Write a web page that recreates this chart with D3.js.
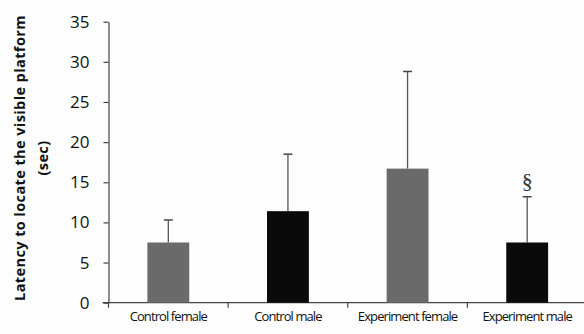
<!DOCTYPE html>
<html>
<head>
<meta charset="utf-8">
<script src="https://cdn.jsdelivr.net/npm/d3@7"></script>
<style>
  html, body { margin: 0; padding: 0; background: #fdfdfd; }
  svg { display: block; }
  svg text { font-family: "Open Sans", "DejaVu Sans", sans-serif; }
</style>
</head>
<body>
<svg id="chart" width="584" height="334"></svg>
<script>
// Group means and standard deviations (seconds)
const categories = ["Control female", "Control male", "Experiment female", "Experiment male"];
const means = [7.5, 11.4, 16.7, 7.5];
const errors = [2.8, 7.1, 12.1, 5.7];
const barColors = ["#6a6a6a", "#0a0a0a", "#6a6a6a", "#0a0a0a"];
const markers = ["", "", "", "§"];
const yTicks = [0, 5, 10, 15, 20, 25, 30, 35];

const svg = d3.select("#chart");
const margin = { left: 108.5, top: 21.7, bottom: 31.3 };
const plotRight = 587;
const plotBottom = 334 - margin.bottom;
const fontFamily = "'Open Sans', 'DejaVu Sans', sans-serif";

const x = d3.scaleBand()
  .domain(categories)
  .range([margin.left, plotRight])
  .paddingInner(0.65)
  .paddingOuter(0.325);

const y = d3.scaleLinear().domain([0, 35]).range([plotBottom, margin.top]);

const axisColor = "#444";

// Y axis
const yAxis = svg.append("g")
  .attr("transform", `translate(${margin.left},0)`)
  .call(d3.axisLeft(y).tickValues(yTicks).tickSize(5).tickSizeOuter(0));
yAxis.attr("font-family", null).attr("font-size", null);
yAxis.select(".domain").attr("stroke", axisColor).attr("stroke-width", 1.2);
yAxis.selectAll(".tick line").attr("stroke", axisColor).attr("stroke-width", 1.2);
yAxis.selectAll(".tick text")
  .attr("x", -19)
  .attr("fill", "#111")
  .style("font-family", fontFamily)
  .style("font-size", "17px");

// X axis with ticks at band boundaries
const step = x.step();
const boundaries = d3.range(categories.length + 1).map(i => margin.left + i * step);
svg.append("line")
  .attr("x1", margin.left - 6).attr("x2", plotRight)
  .attr("y1", plotBottom).attr("y2", plotBottom)
  .attr("stroke", axisColor).attr("stroke-width", 1.2);
svg.selectAll(".xtick").data(boundaries).join("line")
  .attr("class", "xtick")
  .attr("x1", d => d).attr("x2", d => d)
  .attr("y1", plotBottom).attr("y2", plotBottom + 5)
  .attr("stroke", axisColor).attr("stroke-width", 1.2);
svg.selectAll(".xlabel").data(categories).join("text")
  .attr("class", "xlabel")
  .attr("x", d => x(d) + x.bandwidth() / 2)
  .attr("y", plotBottom + 18)
  .attr("text-anchor", "middle")
  .attr("fill", "#111")
  .style("font-family", fontFamily)
  .style("font-size", "13px")
  .style("letter-spacing", "-0.9px")
  .text(d => d);

// Error bars (upper only)
const data = categories.map((c, i) => ({ c, m: means[i], e: errors[i], col: barColors[i], mk: markers[i] }));
const err = svg.selectAll(".err").data(data).join("g").attr("class", "err");
err.append("line")
  .attr("x1", d => x(d.c) + x.bandwidth() / 2)
  .attr("x2", d => x(d.c) + x.bandwidth() / 2)
  .attr("y1", d => y(d.m))
  .attr("y2", d => y(d.m + d.e))
  .attr("stroke", "#555").attr("stroke-width", 1.3);
err.append("line")
  .attr("x1", d => x(d.c) + x.bandwidth() / 2 - 4.5)
  .attr("x2", d => x(d.c) + x.bandwidth() / 2 + 4.5)
  .attr("y1", d => y(d.m + d.e))
  .attr("y2", d => y(d.m + d.e))
  .attr("stroke", "#444").attr("stroke-width", 1.5);

// Bars
svg.selectAll(".bar").data(data).join("rect")
  .attr("class", "bar")
  .attr("x", d => x(d.c))
  .attr("width", x.bandwidth())
  .attr("y", d => y(d.m))
  .attr("height", d => y(0) - y(d.m))
  .attr("fill", d => d.col);

// Significance markers
svg.selectAll(".mark").data(data.filter(d => d.mk)).join("text")
  .attr("class", "mark")
  .attr("x", d => x(d.c) + x.bandwidth() / 2)
  .attr("y", d => y(d.m + d.e) - 9)
  .attr("text-anchor", "middle")
  .attr("fill", "#333")
  .style("font-family", "'Liberation Serif', serif")
  .style("font-size", "22px")
  .text(d => d.mk);

// Y axis title
const title = svg.append("text")
  .attr("transform", `translate(20,158) rotate(-90)`)
  .attr("text-anchor", "middle")
  .attr("fill", "#111")
  .style("font-family", fontFamily)
  .style("font-size", "14.5px")
  .style("font-weight", "bold")
  .style("letter-spacing", "0.4px");
title.append("tspan").attr("x", 0).attr("dy", "0.35em").text("Latency to locate the visible platform");
title.append("tspan").attr("x", 0).attr("dy", "1.55em").text("(sec)");
</script>
</body>
</html>
